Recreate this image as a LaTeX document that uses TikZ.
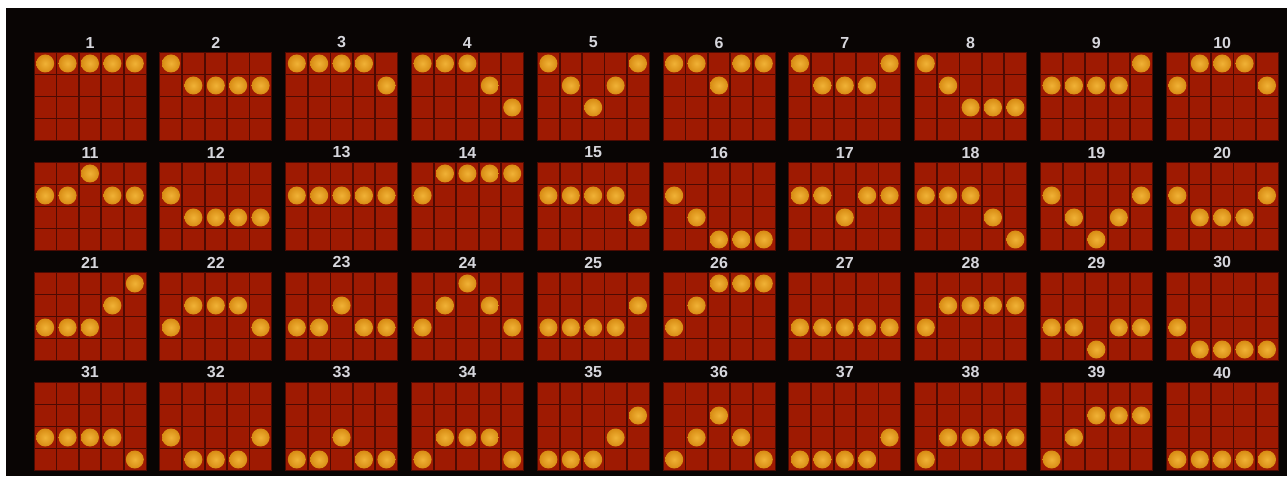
\documentclass[tikz,border=0pt]{standalone}
\usepackage{fontspec}
\setsansfont{Liberation Sans}
\definecolor{bgdark}{HTML}{090504}
\definecolor{cellred}{HTML}{9E1A02}
\definecolor{gridred}{HTML}{4E0A02}
\definecolor{coinhi}{HTML}{F0B236}
\definecolor{coinlo}{HTML}{D88C14}
\definecolor{numgrey}{HTML}{D6D6DC}

\begin{document}
\begin{tikzpicture}[
    x=1pt, y=-1pt,
    panel/.style={fill=cellred},
    gridline/.style={gridred, line width=1.8pt},
    coin/.style={inner color=coinhi, outer color=coinlo},
    num/.style={text=numgrey, inner sep=0pt,
      font=\sffamily\bfseries\fontsize{16}{16}\selectfont},
  ]

  % --- page and dark backdrop ----------------------------------------------
  \useasboundingbox (0,0) rectangle (1287,478);
  \fill[white] (0,0) rectangle (1287,478);
  \fill[bgdark] (6,8) rectangle (1287,476);

  % --- forty line panels: 5 reels x 4 rows, one coin per reel -------------
  \foreach \n/\pat in {
      1/{1,1,1,1,1},  2/{1,2,2,2,2},  3/{1,1,1,1,2},  4/{1,1,1,2,3},
      5/{1,2,3,2,1},  6/{1,1,2,1,1},  7/{1,2,2,2,1},  8/{1,2,3,3,3},
      9/{2,2,2,2,1}, 10/{2,1,1,1,2}, 11/{2,2,1,2,2}, 12/{2,3,3,3,3},
     13/{2,2,2,2,2}, 14/{2,1,1,1,1}, 15/{2,2,2,2,3}, 16/{2,3,4,4,4},
     17/{2,2,3,2,2}, 18/{2,2,2,3,4}, 19/{2,3,4,3,2}, 20/{2,3,3,3,2},
     21/{3,3,3,2,1}, 22/{3,2,2,2,3}, 23/{3,3,2,3,3}, 24/{3,2,1,2,3},
     25/{3,3,3,3,2}, 26/{3,2,1,1,1}, 27/{3,3,3,3,3}, 28/{3,2,2,2,2},
     29/{3,3,4,3,3}, 30/{3,4,4,4,4}, 31/{3,3,3,3,4}, 32/{3,4,4,4,3},
     33/{4,4,3,4,4}, 34/{4,3,3,3,4}, 35/{4,4,4,3,2}, 36/{4,3,2,3,4},
     37/{4,4,4,4,3}, 38/{4,3,3,3,3}, 39/{4,3,2,2,2}, 40/{4,4,4,4,4}} {
    \pgfmathtruncatemacro\col{mod(\n-1,10)}
    \pgfmathtruncatemacro\row{(\n-1)/10}
    \pgfmathsetmacro\gx{34+125.8*\col}
    \pgfmathsetmacro\gy{52.5+110*\row}
    \fill[panel] (\gx,\gy) rectangle ++(112,88);
    \foreach \k in {1,...,4}
      \draw[gridline] ({\gx+22.4*\k},\gy) -- ++(0,88);
    \foreach \k in {1,2,3}
      \draw[gridline] (\gx,{\gy+22*\k}) -- ++(112,0);
    \draw[gridline, line width=1pt] (\gx,\gy) rectangle ++(112,88);
    \node[num] (lab\n) at ({\gx+56},{\gy-10}) {\n};
    \foreach \r [count=\c] in \pat
      \shade[coin] ({\gx+22.4*(\c-0.5)},{\gy+22*(\r-0.5)}) circle (9pt);
  }

\end{tikzpicture}
\end{document}
